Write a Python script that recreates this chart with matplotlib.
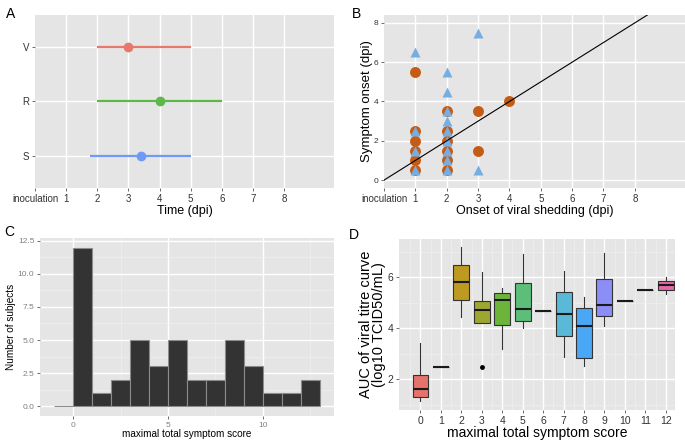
import matplotlib
matplotlib.use("Agg")
from matplotlib import pyplot as plt
import numpy as np

plt.rcParams['font.family'] = ['Liberation Sans', 'DejaVu Sans']

# Panel A: time of events (dpi)
a_groups = ['S', 'R', 'V']
a_low = [1.75, 2.0, 2.0]
a_high = [5.0, 6.0, 5.0]
a_point = [3.4, 4.0, 3.0]
a_colors = ['#6F9AF8', '#5DB847', '#E8776C']
time_labels = ['inoculation', '1', '2', '3', '4', '5', '6', '7', '8']

# Panel B: onset of shedding vs symptom onset
b_circ_x = [1, 1, 1, 1, 1, 1, 2, 2, 2, 2, 2, 2, 3, 3, 4]
b_circ_y = [0.5, 1.0, 1.5, 2.0, 2.5, 5.5, 0.5, 1.0, 1.5, 2.0, 2.5, 3.5, 1.5, 3.5, 4.0]
b_tri_x = [1, 1, 1, 1, 2, 2, 2, 2, 2, 2, 2, 2, 2, 3, 3]
b_tri_y = [0.5, 1.5, 2.5, 6.5, 0.5, 1.0, 1.5, 2.0, 2.5, 3.0, 3.5, 4.5, 5.5, 0.5, 7.5]

# Panel C: histogram of maximal total symptom score
c_bin_left = list(range(-1, 13))
c_counts = [0, 12, 1, 2, 5, 3, 5, 2, 2, 5, 3, 1, 1, 2]

# Panel D: AUC of viral titre per symptom score
d_scores = list(range(13))
d_whislo = [1.14, 2.48, 4.46, 4.20, 3.18, 4.03, 4.68, 2.88, 2.53, 4.11, 5.07, 5.50, 5.33]
d_q1 = [1.29, 2.48, 5.13, 4.20, 4.15, 4.28, 4.68, 3.71, 2.84, 4.50, 5.07, 5.50, 5.51]
d_med = [1.63, 2.48, 5.82, 4.71, 5.13, 4.76, 4.68, 4.56, 4.09, 4.93, 5.07, 5.50, 5.69]
d_q3 = [2.17, 2.48, 6.50, 5.09, 5.37, 5.79, 4.68, 5.42, 4.78, 5.95, 5.07, 5.50, 5.87]
d_whishi = [3.43, 2.48, 7.19, 6.21, 5.57, 6.93, 4.68, 6.25, 5.21, 6.96, 5.07, 5.50, 6.03]
d_fliers = [[], [], [], [2.48], [], [], [], [], [], [], [], [], []]
d_colors = ['#E5736A', '#D98B2B', '#BD9A22', '#9CA630', '#6DB53A', '#5DBE7A', '#4DBEAA',
            '#5AB9D6', '#4AA7F5', '#8C8EF7', '#C87BEF', '#E96AD2', '#E867A8']

PANEL = '#E5E5E5'
MINOR = '#F0F0F0'


def style(ax, tickcolor='#333333', labelsize=7):
    ax.set_facecolor(PANEL)
    for s in ax.spines.values():
        s.set_visible(False)
    ax.set_axisbelow(True)
    ax.tick_params(length=2.5, width=0.6, color='#555555', labelsize=labelsize,
                   labelcolor=tickcolor, pad=1.5)
    ax.tick_params(which='minor', length=0)


fig = plt.figure(figsize=(6.85, 4.41), dpi=100)

# ---- A ----
axA = fig.add_axes([0.0511, 0.5737, 0.4365, 0.3923])
style(axA)
for i, g in enumerate(a_groups):
    axA.plot([a_low[i], a_high[i]], [i + 1, i + 1], color=a_colors[i], lw=1.6,
             solid_capstyle='butt', zorder=3)
    axA.plot(a_point[i], i + 1, 'o', color=a_colors[i], ms=6, zorder=4)
axA.set_xlim(0, 9.6)
axA.set_ylim(0.4, 3.6)
axA.set_xticks(range(9))
axA.set_xticklabels(time_labels)
axA.set_yticks([1, 2, 3])
axA.set_yticklabels(a_groups)
axA.grid(True, color='white', lw=1.0)
axA.get_xgridlines()[0].set_visible(False)
axA.set_xlabel('Time (dpi)', fontsize=9, labelpad=1)

# ---- B ----
axB = fig.add_axes([0.5606, 0.5737, 0.4394, 0.3923])
style(axB)
axB.scatter(b_circ_x, b_circ_y, s=62, color='#C55C15', zorder=3, linewidths=0)
axB.scatter(b_tri_x, b_tri_y, s=52, marker='^', color='#76AEE2', zorder=4, linewidths=0)
axB.axline((0, 0), slope=1, color='black', lw=0.8, zorder=5)
axB.set_xlim(0, 9.6)
axB.set_ylim(-0.4, 8.4)
axB.set_xticks(range(9))
axB.set_xticklabels(time_labels)
axB.set_yticks([0, 2, 4, 6, 8])
axB.tick_params(axis='y', labelsize=6)
axB.grid(True, color='white', lw=1.0)
axB.get_xgridlines()[0].set_visible(False)
axB.set_xlabel('Onset of viral shedding (dpi)', fontsize=9, labelpad=1)
axB.set_ylabel('Symptom onset (dpi)', fontsize=9.5, labelpad=0.5)

# ---- C ----
axC = fig.add_axes([0.0584, 0.0567, 0.4292, 0.4036])
style(axC, tickcolor='#808080', labelsize=6)
axC.bar(c_bin_left, c_counts, width=1, align='edge', color='#333333',
        edgecolor='#8C8C8C', lw=0.8, zorder=3)
axC.set_xlim(-1.74, 13.74)
axC.set_ylim(-0.75, 12.72)
axC.set_xticks([0, 5, 10])
axC.set_xticks([2.5, 7.5, 12.5], minor=True)
yt = [0, 2.5, 5, 7.5, 10, 12.5]
axC.set_yticks(yt)
axC.set_yticklabels([f'{v:.1f}' for v in yt])
axC.set_yticks([1.25, 3.75, 6.25, 8.75, 11.25], minor=True)
axC.grid(True, which='minor', color=MINOR, lw=0.5)
axC.grid(True, which='major', color='white', lw=1.0)
axC.set_xlabel('maximal total symptom score', fontsize=7.2, labelpad=0.5)
axC.set_ylabel('Number of subjects', fontsize=7.2, labelpad=1.5)

# ---- D ----
axD = fig.add_axes([0.5825, 0.0703, 0.4029, 0.3877])
style(axD, labelsize=7.5)
stats = []
for i in range(len(d_scores)):
    stats.append(dict(med=d_med[i], q1=d_q1[i], q3=d_q3[i], whislo=d_whislo[i],
                      whishi=d_whishi[i], fliers=d_fliers[i]))
bp = axD.bxp(stats, positions=d_scores, widths=0.78, patch_artist=True, showcaps=False,
             boxprops=dict(edgecolor='#333333', lw=0.8),
             whiskerprops=dict(color='#333333', lw=0.8),
             medianprops=dict(color='#1A1A1A', lw=1.5),
             flierprops=dict(marker='o', markerfacecolor='black', markeredgecolor='black',
                             markersize=2.5),
             manage_ticks=False, zorder=3)
for patch, c in zip(bp['boxes'], d_colors):
    patch.set_facecolor(c)
axD.set_xlim(-1.05, 12.45)
axD.set_ylim(0.8, 7.5)
axD.set_xticks(d_scores)
axD.set_xticks(np.arange(-0.5, 12.5, 1), minor=True)
axD.set_yticks([2, 4, 6])
axD.set_yticks([1, 3, 5, 7], minor=True)
axD.grid(True, which='minor', color=MINOR, lw=0.5)
axD.grid(True, which='major', color='white', lw=1.0)
axD.set_xlabel('maximal total symptom score', fontsize=10, labelpad=0)
axD.set_ylabel('AUC of viral titre curve\n(log10 TCID50/mL)', fontsize=10.5,
               labelpad=1, linespacing=0.92)

# panel letters
fig.text(0.008, 0.985, 'A', fontsize=10, va='top')
fig.text(0.513, 0.985, 'B', fontsize=10, va='top')
fig.text(0.006, 0.49, 'C', fontsize=10, va='top')
fig.text(0.51, 0.482, 'D', fontsize=10, va='top')

fig.savefig('out.png', dpi=100)
